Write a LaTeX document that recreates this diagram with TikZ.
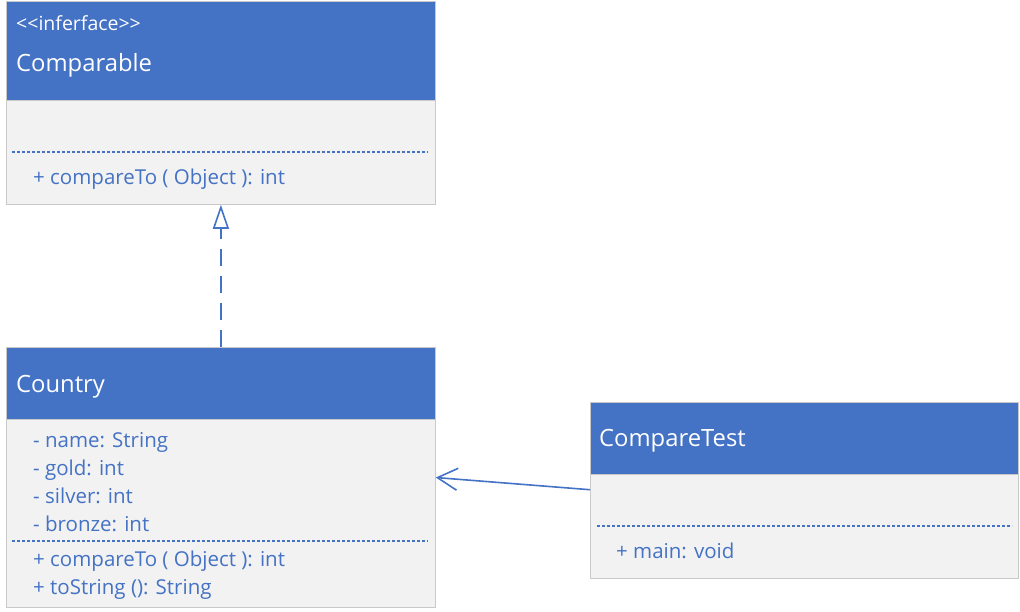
\documentclass[tikz,border=0pt]{standalone}
\usepackage{fontspec}
\setmainfont{Open Sans}
\usetikzlibrary{arrows.meta,calc}
\definecolor{umlblue}{HTML}{4472C4}
\definecolor{umlbody}{HTML}{F2F2F2}
\definecolor{umlborder}{HTML}{C9C9C9}
\begin{document}
\begin{tikzpicture}[x=1pt,y=-1pt,
  headbox/.style={draw=umlborder,fill=umlblue,line width=0.8pt,anchor=north west,inner sep=0pt,minimum width=#1},
  bodybox/.style={draw=umlborder,fill=umlbody,line width=0.8pt,anchor=north west,inner sep=0pt,minimum width=#1},
  titletext/.style={anchor=base west,inner sep=0pt,text=white,font=\fontsize{23.8}{26}\selectfont},
  stereotext/.style={anchor=base west,inner sep=0pt,text=white,font=\fontsize{19.5}{22}\selectfont},
  membertext/.style={anchor=base west,inner sep=0pt,text=umlblue,font=\fontsize{20.5}{23}\selectfont},
  sepline/.style={draw=umlblue,line width=1.1pt,dash pattern=on 3pt off 2pt},
  realizes/.style={draw=umlblue,line width=1.6pt,dash pattern=on 17pt off 10pt,-{Triangle[open,length=24pt,width=16pt,line width=1.6pt,fill=white]}},
  assoc/.style={draw=umlblue,line width=1.6pt,-{Straight Barb[length=20pt,width=22pt,line width=1.6pt]}}
]
\useasboundingbox (0,0) rectangle (1020,612);

% Comparable
\node[headbox=429pt,minimum height=99pt] (comphead) at (6,1) {};
\node[bodybox=429pt,minimum height=104pt] (compbody) at (6,100) {};
\node[stereotext] (compstereo) at (16,31) {<\kern0pt<inferface>\kern0pt>};
\node[titletext] (comptitle) at (16,72) {Comparable};
\draw[sepline] (12,152) -- (428,152);
\node[membertext] (compm1) at (33,185) {+ compareTo ( Object ): int};

% Country
\node[headbox=429pt,minimum height=72pt] (counthead) at (6,347) {};
\node[bodybox=429pt,minimum height=188pt] (countbody) at (6,419) {};
\node[titletext] (counttitle) at (16,392) {Country};
\node[membertext] (ca1) at (33,447) {- name: String};
\node[membertext] (ca2) at (33,475) {- gold: int};
\node[membertext] (ca3) at (33,503) {- silver: int};
\node[membertext] (ca4) at (33,531) {- bronze: int};
\draw[sepline] (12,541) -- (428,541);
\node[membertext] (cm1) at (33,566) {+ compareTo ( Object ): int};
\node[membertext] (cm2) at (33,594) {+ toString (): String};

% CompareTest
\node[headbox=428pt,minimum height=72pt] (testhead) at (590,402) {};
\node[bodybox=428pt,minimum height=104pt] (testbody) at (590,474) {};
\node[titletext] (testtitle) at (599,446) {CompareTest};
\draw[sepline] (597,526) -- (1012,526);
\node[membertext] (tm1) at (616,558) {+ main: void};

% connectors
\draw[realizes] (counthead.north) -- (compbody.south);
\coordinate (assocstart) at ($(testbody.north west)!0.15!(testbody.south west)$);
\coordinate (assocend) at ($(countbody.north east)!0.31!(countbody.south east)$);
\draw[assoc] (assocstart) -- (assocend);
\end{tikzpicture}
\end{document}
